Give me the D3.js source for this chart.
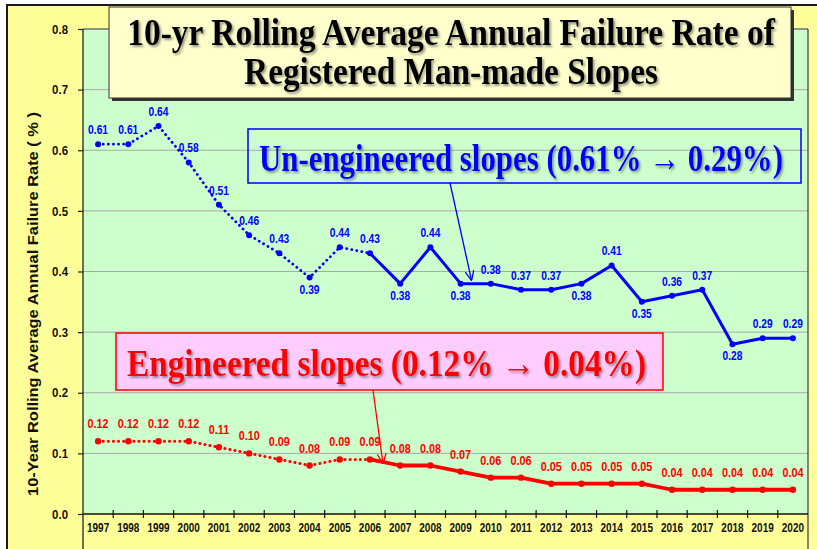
<!DOCTYPE html>
<html>
<head>
<meta charset="utf-8">
<script src="https://cdn.jsdelivr.net/npm/d3@7"></script>
<style>
  html, body { margin: 0; padding: 0; background: #ffffff; }
  svg { display: block; }
</style>
</head>
<body>
<svg id="chart" width="817" height="549"></svg>
<script>
// ---- data ----
const years = ['1997','1998','1999','2000','2001','2002','2003','2004','2005','2006','2007','2008',
               '2009','2010','2011','2012','2013','2014','2015','2016','2017','2018','2019','2020'];
const unengineered = [0.61,0.61,0.64,0.58,0.51,0.46,0.43,0.39,0.44,0.43,0.38,0.44,
                      0.38,0.38,0.37,0.37,0.38,0.41,0.35,0.36,0.37,0.28,0.29,0.29];
const engineered   = [0.12,0.12,0.12,0.12,0.11,0.10,0.09,0.08,0.09,0.09,0.08,0.08,
                      0.07,0.06,0.06,0.05,0.05,0.05,0.05,0.04,0.04,0.04,0.04,0.04];
const yTicks = [0,0.1,0.2,0.3,0.4,0.5,0.6,0.7,0.8];
// years whose un-engineered value label sits under the point
const unengLabelBelow = ['2004','2007','2009','2013','2015','2018'];
// last year of the dotted part of each series
const dottedUntil = '2006';

const titleLines = ['10-yr Rolling Average Annual Failure Rate of', 'Registered Man-made Slopes'];
const unengNote = 'Un-engineered slopes (0.61% \u2192 0.29%)';
const engNote = 'Engineered slopes (0.12% \u2192 0.04%)';
const yTitle = '10-Year Rolling Average Annual Failure Rate ( % )';

// ---- layout ----
const W = 817, H = 549;
const plot = { left: 83, right: 808, top: 29, bottom: 514 };
const BLUE = '#0000ff', RED = '#ff0000';
const SANS = '"Liberation Sans", Arial, Helvetica, sans-serif';
const SERIF = '"Liberation Serif", "Times New Roman", Times, serif';

const svg = d3.select('#chart');

const x = d3.scaleBand().domain(years).range([plot.left, plot.right]).padding(0);
const y = d3.scaleLinear().domain([0, 0.8]).range([plot.bottom, plot.top]);
const xc = d => x(d) + x.bandwidth() / 2;

// squeeze text horizontally (narrow glyphs)
function squeeze(sel, factor) {
  sel.each(function () {
    const len = this.getComputedTextLength();
    d3.select(this).attr('textLength', len * factor).attr('lengthAdjust', 'spacingAndGlyphs');
  });
}
// centred text at (cx, baseline), scaled horizontally to a given width
function condensedText(parent, str, cx, baseline, width, attrs) {
  const t = parent.append('text').attr('x', 0).attr('y', 0).attr('text-anchor', 'middle');
  Object.entries(attrs).forEach(([k, v]) => t.attr(k, v));
  t.text(str);
  const k = width / t.node().getComputedTextLength();
  t.attr('transform', `translate(${cx},${baseline}) scale(${k},1)`);
  return t;
}

// ---- filters ----
const defs = svg.append('defs');
const sh = defs.append('filter').attr('id', 'txtShadow')
  .attr('x', '-5%').attr('y', '-20%').attr('width', '110%').attr('height', '150%');
sh.append('feDropShadow').attr('dx', 2).attr('dy', 2).attr('stdDeviation', 1)
  .attr('flood-color', '#444').attr('flood-opacity', 0.55);

function arrowMarker(id, color) {
  defs.append('marker').attr('id', id)
    .attr('viewBox', '0 0 10 10').attr('refX', 10).attr('refY', 5)
    .attr('markerWidth', 10).attr('markerHeight', 10).attr('markerUnits', 'userSpaceOnUse')
    .attr('orient', 'auto')
    .append('path').attr('d', 'M0,0.5 L10,5 L0,9.5')
    .attr('fill', 'none').attr('stroke', color).attr('stroke-width', 1.3);
}
arrowMarker('arrBlue', BLUE);
arrowMarker('arrRed', RED);

// ---- background & frame ----
svg.append('rect').attr('x', 7).attr('y', 5).attr('width', W).attr('height', H)
  .attr('fill', '#ffff99').attr('stroke', '#1a1a1a').attr('stroke-width', 2);

svg.append('rect')
  .attr('x', plot.left).attr('y', plot.top)
  .attr('width', plot.right - plot.left).attr('height', plot.bottom - plot.top)
  .attr('fill', '#ccffcc');

// gridlines
svg.append('g').selectAll('line').data(yTicks.filter(v => v > 0)).join('line')
  .attr('x1', plot.left).attr('x2', plot.right)
  .attr('y1', d => y(d)).attr('y2', d => y(d))
  .attr('stroke', '#a8a8a8').attr('stroke-width', 1);

// plot frame: top edge and side lines running to the bottom of the slide
svg.append('line').attr('x1', plot.left).attr('x2', plot.right)
  .attr('y1', plot.top).attr('y2', plot.top).attr('stroke', '#555').attr('stroke-width', 1);
svg.append('line').attr('x1', plot.right).attr('x2', plot.right)
  .attr('y1', plot.top).attr('y2', H).attr('stroke', '#444').attr('stroke-width', 1.3);
svg.append('line').attr('x1', plot.left).attr('x2', plot.left)
  .attr('y1', plot.top).attr('y2', H).attr('stroke', '#222').attr('stroke-width', 1.3);

// ---- y axis ----
const yAxis = svg.append('g').attr('transform', `translate(${plot.left},0)`)
  .call(d3.axisLeft(y).tickValues(yTicks).tickFormat(d3.format('.1f')).tickSize(5).tickPadding(10));
yAxis.select('.domain').remove();
yAxis.selectAll('.tick line').attr('stroke', '#222').attr('stroke-width', 1.2);
yAxis.selectAll('.tick text')
  .attr('font-family', SANS).attr('font-weight', 'bold').attr('font-size', 13)
  .attr('fill', '#111').call(squeeze, 0.88);

// ---- x axis ----
const xAxis = svg.append('g').attr('transform', `translate(0,${plot.bottom})`)
  .call(d3.axisBottom(x).tickSize(0).tickPadding(9));
xAxis.select('.domain').remove();
xAxis.selectAll('.tick text')
  .attr('font-family', SANS).attr('font-weight', 'bold').attr('font-size', 12.5)
  .attr('fill', '#111').call(squeeze, 0.8);
svg.append('line').attr('x1', plot.left).attr('x2', plot.right)
  .attr('y1', plot.bottom).attr('y2', plot.bottom).attr('stroke', '#111').attr('stroke-width', 1.5);
// tick marks on the boundaries between years
svg.append('g').selectAll('line').data(years.slice(1)).join('line')
  .attr('x1', d => x(d)).attr('x2', d => x(d))
  .attr('y1', plot.bottom - 4).attr('y2', plot.bottom + 4)
  .attr('stroke', '#111').attr('stroke-width', 1.2);

// y axis title (rotated, condensed along its length)
{
  const t = svg.append('text').attr('x', 0).attr('y', 0).attr('text-anchor', 'middle')
    .attr('font-family', SANS).attr('font-weight', 'bold').attr('font-size', 14)
    .attr('fill', '#111').text(yTitle);
  const k = 384 / t.node().getComputedTextLength();
  t.attr('transform', `translate(38,${(112 + 496) / 2}) rotate(-90) scale(${k},1)`);
}

// ---- series ----
function drawSeries(values, color, solidWidth, dotWidth, r) {
  const pts = years.map((yr, i) => ({ yr, i, v: values[i] }));
  const cut = years.indexOf(dottedUntil);
  const line = d3.line().x(d => xc(d.yr)).y(d => y(d.v));
  const g = svg.append('g');
  g.append('path').datum(pts.slice(0, cut + 1)).attr('d', line)
    .attr('fill', 'none').attr('stroke', color).attr('stroke-width', dotWidth)
    .attr('stroke-linecap', 'round').attr('stroke-dasharray', '0.1 5');
  g.append('path').datum(pts.slice(cut)).attr('d', line)
    .attr('fill', 'none').attr('stroke', color).attr('stroke-width', solidWidth)
    .attr('stroke-linejoin', 'round').attr('stroke-linecap', 'round');
  g.selectAll('circle').data(pts).join('circle')
    .attr('cx', d => xc(d.yr)).attr('cy', d => y(d.v)).attr('r', r).attr('fill', color);
  return pts;
}

const bluePts = drawSeries(unengineered, BLUE, 3, 2.8, 3);
const redPts = drawSeries(engineered, RED, 3.8, 3, 3.2);

// value labels
svg.append('g').selectAll('text').data(bluePts).join('text')
  .attr('x', d => xc(d.yr))
  .attr('y', d => unengLabelBelow.includes(d.yr) ? y(d.v) + 16 : y(d.v) - 10)
  .attr('text-anchor', 'middle')
  .attr('font-family', SANS).attr('font-weight', 'bold').attr('font-size', 12.5)
  .attr('fill', BLUE)
  .text(d => d3.format('.2f')(d.v))
  .call(squeeze, 0.82);

svg.append('g').selectAll('text').data(redPts).join('text')
  .attr('x', d => xc(d.yr))
  .attr('y', d => y(d.v) - 13)
  .attr('text-anchor', 'middle')
  .attr('font-family', SANS).attr('font-weight', 'bold').attr('font-size', 13.5)
  .attr('fill', RED)
  .text(d => d3.format('.2f')(d.v))
  .call(squeeze, 0.8);

// ---- annotation boxes with arrows ----
// un-engineered
svg.append('rect').attr('x', 248).attr('y', 129).attr('width', 553).attr('height', 54)
  .attr('fill', 'none').attr('stroke', BLUE).attr('stroke-width', 1.5);
condensedText(svg, unengNote, 521, 171, 524, {
  'font-family': SERIF, 'font-weight': 'bold', 'font-size': 38,
  fill: BLUE, filter: 'url(#txtShadow)'
});
svg.append('line')
  .attr('x1', 450).attr('y1', 183)
  .attr('x2', xc('2009') + 11).attr('y2', y(0.385))
  .attr('stroke', BLUE).attr('stroke-width', 1.3).attr('marker-end', 'url(#arrBlue)');

// engineered
svg.append('rect').attr('x', 116).attr('y', 333).attr('width', 547).attr('height', 57)
  .attr('fill', '#ffccff').attr('stroke', RED).attr('stroke-width', 1.5);
condensedText(svg, engNote, 386.5, 376, 519, {
  'font-family': SERIF, 'font-weight': 'bold', 'font-size': 38,
  fill: RED, filter: 'url(#txtShadow)'
});
svg.append('line')
  .attr('x1', 373).attr('y1', 390)
  .attr('x2', xc('2006') + 13).attr('y2', y(0.083))
  .attr('stroke', RED).attr('stroke-width', 1.3).attr('marker-end', 'url(#arrRed)');

// ---- title box ----
svg.append('rect').attr('x', 112).attr('y', 10).attr('width', 682).attr('height', 91)
  .attr('fill', '#333');
svg.append('rect').attr('x', 109).attr('y', 7).attr('width', 682).attr('height', 91)
  .attr('fill', '#ffffcc').attr('stroke', '#333').attr('stroke-width', 1);
const titleWidths = [648, 414];
const titleBase = [45, 84];
titleLines.forEach((t, i) => {
  condensedText(svg, t, 451, titleBase[i], titleWidths[i], {
    'font-family': SERIF, 'font-weight': 'bold', 'font-size': 38,
    fill: '#000', filter: 'url(#txtShadow)'
  });
});
</script>
</body>
</html>
